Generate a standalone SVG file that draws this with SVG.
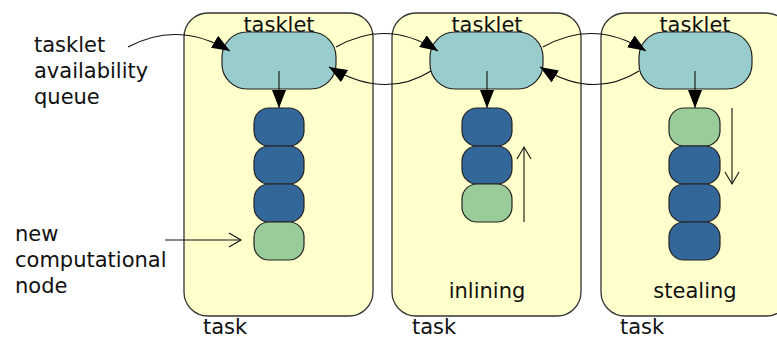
<svg xmlns="http://www.w3.org/2000/svg" width="777" height="338" viewBox="0 0 777 338">
  <style>
    text { font-family: "DejaVu Sans", Verdana, sans-serif; font-size: 21px; fill: #111; }
    .mid { text-anchor: middle; }
    .task { fill: #FFFFCC; stroke: #333; stroke-width: 1.3; }
    .queue { fill: #99CCCC; stroke: #222; stroke-width: 1.2; }
    .busy { fill: #336699; stroke: #222; stroke-width: 1.2; }
    .fresh { fill: #99CC99; stroke: #222; stroke-width: 1.2; }
    .link { fill: none; stroke: #111; stroke-width: 1.1; }
  </style>
  <defs>
    <marker id="solid" markerUnits="userSpaceOnUse" markerWidth="18" markerHeight="14" refX="18" refY="7" orient="auto" viewBox="0 0 18 14">
      <path d="M0,0 L18,7 L0,14 z" fill="#000"/>
    </marker>
    <marker id="open" markerUnits="userSpaceOnUse" markerWidth="14" markerHeight="16" refX="13" refY="8" orient="auto" viewBox="0 0 14 16" overflow="visible">
      <path d="M1,1 L13,8 L1,15" fill="none" stroke="#111" stroke-width="1.1"/>
    </marker>
  </defs>

  <!-- free-standing labels -->
  <g id="label-queue">
    <text x="34" y="52">tasklet</text>
    <text x="34" y="78">availability</text>
    <text x="34" y="104">queue</text>
  </g>
  <g id="label-node">
    <text x="15" y="241">new</text>
    <text x="15" y="267">computational</text>
    <text x="15" y="293">node</text>
  </g>

  <!-- task 1 -->
  <g id="task1">
    <rect class="task" x="184" y="13" width="189" height="303" rx="24"/>
    <text class="mid" x="279" y="32">tasklet</text>
    <text x="203" y="334">task</text>
  </g>
  <g id="queue1"><rect class="queue" x="222" y="32" width="114" height="57" rx="25"/></g>
  <g id="stack1">
    <rect class="busy" x="254" y="108" width="50" height="38" rx="15"/>
    <rect class="busy" x="254" y="146" width="50" height="38" rx="15"/>
    <rect class="busy" x="254" y="184" width="50" height="38" rx="15"/>
    <rect class="fresh" x="254" y="222" width="50" height="38" rx="15"/>
  </g>

  <!-- task 2 -->
  <g id="task2">
    <rect class="task" x="392" y="13" width="189" height="303" rx="24"/>
    <text class="mid" x="487" y="32">tasklet</text>
    <text class="mid" x="487" y="298">inlining</text>
    <text x="412" y="334">task</text>
  </g>
  <g id="queue2"><rect class="queue" x="430" y="32" width="113" height="57" rx="25"/></g>
  <g id="stack2">
    <rect class="busy" x="462" y="108" width="50" height="38" rx="15"/>
    <rect class="busy" x="462" y="146" width="50" height="38" rx="15"/>
    <rect class="fresh" x="462" y="184" width="50" height="38" rx="15"/>
  </g>

  <!-- task 3 -->
  <g id="task3">
    <rect class="task" x="601" y="13" width="189" height="303" rx="24"/>
    <text class="mid" x="695" y="32">tasklet</text>
    <text class="mid" x="695" y="298">stealing</text>
    <text x="620" y="334">task</text>
  </g>
  <g id="queue3"><rect class="queue" x="639" y="32" width="113" height="57" rx="25"/></g>
  <g id="stack3">
    <rect class="fresh" x="669" y="108" width="51" height="38" rx="15"/>
    <rect class="busy" x="669" y="146" width="51" height="38" rx="15"/>
    <rect class="busy" x="669" y="184" width="51" height="38" rx="15"/>
    <rect class="busy" x="669" y="222" width="51" height="38" rx="15"/>
  </g>

  <!-- connectors -->
  <g id="connectors">
    <path class="link" d="M128,47 Q178,20 230,51" marker-end="url(#solid)"/>
    <path class="link" d="M336,47 Q387,18 438,51" marker-end="url(#solid)"/>
    <path class="link" d="M543,47 Q594,18 646,51" marker-end="url(#solid)"/>
    <path class="link" d="M431,71 Q385,100 329,67" marker-end="url(#solid)"/>
    <path class="link" d="M639,71 Q593,100 540,67" marker-end="url(#solid)"/>
    <path class="link" d="M279,71 L279,108" marker-end="url(#solid)"/>
    <path class="link" d="M487,71 L487,108" marker-end="url(#solid)"/>
    <path class="link" d="M695,71 L695,108" marker-end="url(#solid)"/>
    <path class="link" d="M524,222 L524,147" marker-end="url(#open)"/>
    <path class="link" d="M732,108 L732,184" marker-end="url(#open)"/>
    <path class="link" d="M165,240 L241,240" marker-end="url(#open)"/>
  </g>
</svg>
